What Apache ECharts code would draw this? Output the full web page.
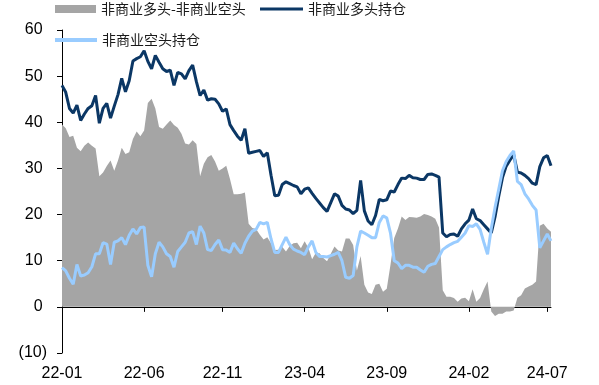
<!DOCTYPE html>
<html>
<head>
<meta charset="utf-8">
<script src="https://cdn.jsdelivr.net/npm/echarts@6/dist/echarts.min.js"></script>
<style>
html,body{margin:0;padding:0;background:#fff;}
#c{width:599px;height:385px;}
</style>
</head>
<body>
<div id="c"></div>
<script>
// Weekly data, first week 2022-01-04
const seriesNames = ['非商业多头-非商业空头', '非商业多头持仓', '非商业空头持仓'];
const tickLabels = ['22-01','22-06','22-11','23-04','23-09','24-02','24-07'];
const yTicks = [-10, 0, 10, 20, 30, 40, 50, 60];

const longPos = [
48.0,46.5,43.0,42.0,43.7,40.4,41.8,43.0,43.6,45.8,
39.8,43.0,44.1,40.9,43.5,46.0,49.5,46.6,49.0,53.3,
53.8,54.2,55.5,53.2,51.6,54.5,53.0,51.6,51.0,51.3,
48.0,50.8,50.5,49.4,51.2,52.4,48.8,45.8,47.0,44.8,
45.1,45.0,44.0,42.4,42.9,39.5,38.2,37.0,36.1,38.6,
33.3,33.5,33.7,33.9,32.6,33.4,28.5,24.1,24.2,26.5,
27.1,26.7,26.3,26.0,24.5,25.5,25.8,24.6,23.5,22.5,
21.5,20.7,22.6,24.5,24.0,22.0,21.2,21.0,20.2,20.9,
27.4,20.8,18.6,17.8,19.8,23.3,23.0,23.2,25.1,24.9,
26.5,27.9,27.8,28.5,28.0,27.9,27.6,27.6,28.7,28.8,
28.5,28.1,16.0,15.2,15.7,15.8,15.3,16.9,18.0,18.8,
21.2,19.1,18.7,17.8,16.9,16.0,19.5,24.0,28.0,30.5,
31.8,33.0,29.2,29.0,28.5,27.8,26.8,26.5,30.4,32.3,
32.8,30.6
];

const shortPos = [
8.5,7.8,6.2,4.9,9.2,6.7,6.9,7.4,8.7,11.5,
11.5,13.9,13.6,9.2,14.0,14.3,15.0,13.5,15.5,16.9,
15.8,17.2,17.3,9.0,6.5,11.5,14.0,13.0,11.5,10.9,
8.6,12.0,13.0,14.0,16.0,16.3,13.5,17.5,16.0,12.4,
12.2,13.5,14.5,12.4,12.3,11.8,13.8,12.6,11.6,13.8,
15.3,16.4,16.8,18.3,18.0,18.3,14.7,11.8,11.8,13.5,
15.1,13.5,12.5,12.1,11.8,11.3,13.0,14.3,11.8,10.9,
10.9,10.8,11.1,11.4,11.8,10.0,6.4,6.2,6.8,13.0,
16.4,16.0,15.5,15.0,15.0,18.3,19.7,19.3,16.0,10.0,
9.5,8.3,9.0,9.0,8.6,8.6,8.0,7.5,8.8,9.2,
9.4,10.9,12.4,13.0,13.5,13.9,14.2,15.1,16.0,17.6,
17.4,18.0,16.8,14.0,11.4,17.0,21.5,25.5,29.5,31.5,
32.8,33.8,27.2,26.5,24.5,23.4,22.0,21.0,12.8,14.3,
15.8,14.3
];

const netPos = [
39.5,38.7,36.8,37.1,34.5,33.7,34.9,35.6,34.9,34.3,
28.3,29.1,30.5,31.7,29.5,31.7,34.5,33.1,33.5,36.4,
38.0,37.0,38.2,44.2,45.1,43.0,39.0,38.6,39.5,40.4,
39.4,38.8,37.5,35.4,35.2,36.1,35.3,28.3,31.0,32.4,
32.9,31.5,29.5,30.0,30.6,27.7,24.4,24.4,24.5,24.8,
18.0,17.1,16.9,15.6,14.6,15.1,13.8,12.3,12.4,13.0,
12.0,13.2,13.8,13.9,12.7,14.2,12.8,10.3,11.7,11.6,
10.6,9.9,11.5,13.1,12.2,12.0,14.8,14.8,13.4,7.9,
11.0,4.8,3.1,2.8,4.8,5.0,3.3,3.9,9.1,14.9,
17.0,19.6,18.8,19.5,19.4,19.3,19.6,20.1,19.9,19.6,
19.1,17.2,3.6,2.2,2.2,1.9,1.1,1.8,2.0,1.2,
3.8,1.1,1.9,3.8,5.5,-1.0,-2.0,-1.5,-1.5,-1.0,
-1.0,-0.8,2.0,2.5,4.0,4.4,4.8,5.5,17.6,18.0,
17.0,16.3
];

// weekly category labels (YY-MM)
const categories = [];
const start = Date.UTC(2022, 0, 4);
for (let i = 0; i < longPos.length; i++) {
  const d = new Date(start + i * 7 * 86400000);
  const yy = String(d.getUTCFullYear() % 100).padStart(2, '0');
  const mm = String(d.getUTCMonth() + 1).padStart(2, '0');
  categories.push(yy + '-' + mm);
}
const showAt = (idx, val) => tickLabels.includes(categories[idx]) && (idx === 0 || categories[idx - 1] !== categories[idx]);

const C_GRAY = '#A5A5A5', C_DARK = '#0B3765', C_LIGHT = '#99CCFF';
const legendFont = { fontFamily: 'Noto Sans CJK SC', fontSize: 14, color: '#1a1a1a' };
const axisFont = { fontFamily: 'Liberation Sans, Arial, sans-serif', fontSize: 16, color: '#000' };

const chart = echarts.init(document.getElementById('c'), null, { renderer: 'canvas' });
chart.setOption({
  animation: false,
  backgroundColor: '#fff',
  grid: { left: 62, right: 48, top: 30, bottom: 32, containLabel: false },
  legend: [
    { left: 55, top: 2, padding: 0, itemWidth: 41, itemHeight: 8, selectedMode: false, textStyle: legendFont,
      data: [{ name: seriesNames[0], icon: 'rect' }] },
    { left: 260, top: 2, padding: 0, itemWidth: 43, itemHeight: 3, selectedMode: false, textStyle: legendFont,
      data: [{ name: seriesNames[1], icon: 'rect' }] },
    { left: 55, top: 33, padding: 0, itemWidth: 42, itemHeight: 4, selectedMode: false, textStyle: legendFont,
      data: [{ name: seriesNames[2], icon: 'rect' }] }
  ],
  xAxis: [
    { type: 'category', data: categories, boundaryGap: false,
      axisLine: { onZero: true, lineStyle: { color: '#000', width: 1 } },
      axisTick: { show: true, interval: showAt, length: 5, inside: false, lineStyle: { color: '#000' } },
      axisLabel: { show: false }, splitLine: { show: false } },
    { type: 'category', data: categories, boundaryGap: false, position: 'bottom',
      axisLine: { show: false, onZero: false }, axisTick: { show: false },
      axisLabel: { show: true, interval: showAt, margin: 13, ...axisFont }, splitLine: { show: false } }
  ],
  yAxis: {
    type: 'value', min: yTicks[0], max: yTicks[yTicks.length - 1], interval: 10,
    axisLine: { show: true, lineStyle: { color: '#000', width: 1 } },
    axisTick: { show: true, length: 5, lineStyle: { color: '#000' } },
    splitLine: { show: false },
    axisLabel: { margin: 15, ...axisFont,
      formatter: v => v < 0 ? '(' + (-v) + ')' : v + ' ' }
  },
  series: [
    { name: seriesNames[0], type: 'line', data: netPos, xAxisIndex: 0, showSymbol: false, symbol: 'none',
      lineStyle: { width: 0, color: C_GRAY }, itemStyle: { color: C_GRAY },
      areaStyle: { color: C_GRAY, opacity: 1 }, z: 1 },
    { name: seriesNames[1], type: 'line', data: longPos, xAxisIndex: 0, showSymbol: false, symbol: 'none',
      lineStyle: { width: 3, color: C_DARK }, itemStyle: { color: C_DARK }, z: 3 },
    { name: seriesNames[2], type: 'line', data: shortPos, xAxisIndex: 0, showSymbol: false, symbol: 'none',
      lineStyle: { width: 3, color: C_LIGHT }, itemStyle: { color: C_LIGHT }, z: 4 }
  ]
});
</script>
</body>
</html>
